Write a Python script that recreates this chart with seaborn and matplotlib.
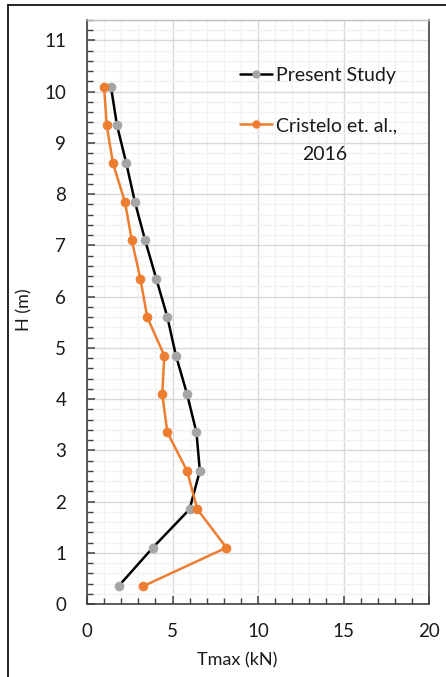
import matplotlib
matplotlib.use("Agg")
import matplotlib.pyplot as plt
from matplotlib.lines import Line2D
from matplotlib.ticker import MultipleLocator
import numpy as np
import pandas as pd
import seaborn as sns

# Height of each reinforcement layer (m)
heights = [0.35, 1.10, 1.85, 2.60, 3.35, 4.10, 4.85, 5.60, 6.35, 7.10, 7.85, 8.60, 9.35, 10.10]
# Maximum tensile force per layer (kN)
t_present = [1.85, 3.85, 6.00, 6.60, 6.40, 5.85, 5.20, 4.70, 4.05, 3.40, 2.80, 2.30, 1.75, 1.40]
t_cristelo = [3.30, 8.15, 6.45, 5.85, 4.70, 4.40, 4.52, 3.52, 3.12, 2.62, 2.22, 1.52, 1.15, 1.00]

series_names = ["Present Study", "Cristelo et. al.,\n2016"]

df = pd.concat([
    pd.DataFrame({"H": heights, "T": t_present, "series": series_names[0]}),
    pd.DataFrame({"H": heights, "T": t_cristelo, "series": series_names[1]}),
])

sns.set_theme(style="white")
plt.rcParams["font.family"] = ["Lato", "DejaVu Sans"]

W, H = 446, 677
fig = plt.figure(figsize=(W / 100, H / 100), dpi=100)
ax = fig.add_axes([87 / W, 1 - 604 / H, (429 - 87) / W, (604 - 20) / H])

ORANGE = "#ed7d31"
GREY = "#a5a5a5"
TEXT = "#1a1a1a"

# grid first so the series sit on top
ax.set_xlim(0, 20)
ax.set_ylim(0, 11.4)
ax.xaxis.set_major_locator(MultipleLocator(5))
ax.xaxis.set_minor_locator(MultipleLocator(1))
ax.yaxis.set_major_locator(MultipleLocator(1))
ax.yaxis.set_minor_locator(MultipleLocator(0.2))
ax.grid(True, which="major", color="#d9d9d9", linewidth=1.0)
ax.grid(True, which="minor", color="#f2f2f2", linewidth=1.0)
ax.set_axisbelow(True)

sub = df[df.series == series_names[0]]
sns.lineplot(data=sub, x="T", y="H", orient="y", sort=False, ax=ax,
             color="black", linewidth=1.8, marker="o", markersize=6.2,
             markerfacecolor=GREY, markeredgecolor=GREY, legend=False)
sub = df[df.series == series_names[1]]
sns.lineplot(data=sub, x="T", y="H", orient="y", sort=False, ax=ax,
             color=ORANGE, linewidth=1.8, marker="o", markersize=6.2,
             markerfacecolor=ORANGE, markeredgecolor=ORANGE, legend=False)

for side in ["left", "bottom", "right"]:
    ax.spines[side].set_color("#404040")
    ax.spines[side].set_linewidth(1.2)
ax.spines["top"].set_color("#bfbfbf")
ax.spines["top"].set_linewidth(1.0)

ax.tick_params(axis="both", which="both", direction="in", colors="#404040",
               labelcolor=TEXT, labelsize=13.5)
ax.tick_params(axis="both", which="major", length=6, width=1.1)
ax.tick_params(axis="both", which="minor", length=4, width=1.0)
ax.tick_params(axis="y", which="both", pad=15, right=False, left=True)
ax.tick_params(axis="x", which="both", pad=14, top=False, bottom=True)

ax.set_xlabel("Tmax (kN)", fontsize=13, color=TEXT)
ax.xaxis.set_label_coords((237 - 87) / 342, -(660 - 604) / 584)
ax.xaxis.label.set_va("center")
ax.set_ylabel("H (m)", fontsize=13, color=TEXT)
ax.yaxis.set_label_coords(-(87 - 24) / 342, (604 - 310) / 584)
ax.yaxis.label.set_va("center")

# legend: handle sits on the first line of each label, wrapped part below it
first_lines = [name.split("\n")[0] for name in series_names]
handles = [
    Line2D([0], [0], color="black", linewidth=1.8, marker="o", markersize=5,
           markerfacecolor=GREY, markeredgecolor=GREY),
    Line2D([0], [0], color=ORANGE, linewidth=1.8, marker="o", markersize=5,
           markerfacecolor=ORANGE, markeredgecolor=ORANGE),
]
leg = ax.legend(handles, first_lines, loc="upper left",
                bbox_to_anchor=((240 - 87) / 342, 1 - (67 - 20) / 584),
                frameon=False, fontsize=14, handlelength=1.65,
                handletextpad=0.2, labelspacing=1.7, borderpad=0,
                borderaxespad=0)
for t in leg.get_texts():
    t.set_color(TEXT)
wrapped = series_names[1].split("\n")[1]
fig.text(325 / W, 1 - 154 / H, wrapped, fontsize=14, color=TEXT,
         ha="center", va="center")

# outer chart frame (left and top edges)
fig.add_artist(Line2D([8 / W, 8 / W], [0, 1 - 5 / H], color="black", linewidth=1.2))
fig.add_artist(Line2D([8 / W, 1], [1 - 5 / H, 1 - 5 / H], color="black", linewidth=1.2))

fig.savefig("out.png", dpi=100, facecolor="white")
